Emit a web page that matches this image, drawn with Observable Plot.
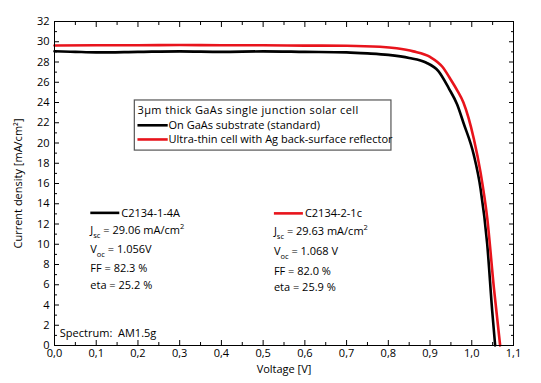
<!DOCTYPE html>
<html><head><meta charset="utf-8">
<script src="https://cdn.jsdelivr.net/npm/d3@7"></script>
<script src="https://cdn.jsdelivr.net/npm/@observablehq/plot@0.6"></script>
<style>
body{margin:0;background:#fff;font-family:"Open Sans",sans-serif}
#chart{position:relative;width:541px;height:383px}
</style>
</head><body><div id="chart"></div>
<script>
// Sample C2134-1-4A (on GaAs substrate)
const voltageA = [0, 0.05, 0.1, 0.2, 0.3, 0.4, 0.5, 0.6, 0.7, 0.75, 0.8, 0.85, 0.89, 0.92, 0.945, 0.965, 0.98, 1.005, 1.021, 1.037, 1.049, 1.056];
const currentA = [29.06, 29.0, 28.95, 29.0, 29.05, 29.0, 29.05, 29.0, 28.95, 28.85, 28.7, 28.4, 27.95, 27.1, 25.4, 23.8, 22.0, 18.8, 15.5, 10.0, 3.4, 0];
// Sample C2134-2-1c (ultra-thin with Ag reflector)
const voltageB = [0, 0.1, 0.2, 0.3, 0.4, 0.5, 0.6, 0.7, 0.78, 0.82, 0.86, 0.9, 0.93, 0.949, 0.965, 0.98, 1.005, 1.021, 1.037, 1.053, 1.068];
const currentB = [29.63, 29.65, 29.65, 29.68, 29.65, 29.65, 29.62, 29.6, 29.5, 29.35, 29.05, 28.5, 27.5, 26.3, 25.2, 24.0, 20.4, 17.1, 12.6, 5.7, 0];

const xTicks = [0, 0.1, 0.2, 0.3, 0.4, 0.5, 0.6, 0.7, 0.8, 0.9, 1.0, 1.1];
const xMinor = [0.05, 0.15, 0.25, 0.35, 0.45, 0.55, 0.65, 0.75, 0.85, 0.95, 1.05];
const yTicks = [0, 2, 4, 6, 8, 10, 12, 14, 16, 18, 20, 22, 24, 26, 28, 30, 32];
const yMinor = [1, 3, 5, 7, 9, 11, 13, 15, 17, 19, 21, 23, 25, 27, 29, 31];

const legendTitle = "3µm thick GaAs single junction solar cell";
const legendLabels = ["On GaAs substrate (standard)", "Ultra-thin cell with Ag back-surface reflector"];
const sampleNames = ["C2134-1-4A", "C2134-2-1c"];
const jscValues = ["29.06", "29.63"];
const vocValues = ["1.056V", "1.068 V"];
const ffValues = ["82.3 %", "82.0 %"];
const etaValues = ["25.2 %", "25.9 %"];
const colors = ["#000000", "#e8141c"];
const spectrum = "Spectrum:  AM1.5g";

const dataA = voltageA.map((v, i) => ({v, j: currentA[i]}));
const dataB = voltageB.map((v, i) => ({v, j: currentB[i]}));
const fmtX = d => d3.format(".1f")(d).replace(".", ",");

const chart = Plot.plot({
  width: 541, height: 383,
  marginLeft: 54, marginRight: 28, marginTop: 21, marginBottom: 38,
  style: {fontFamily: "Open Sans", fontSize: "11px", color: "#000", background: "#fff", overflow: "visible"},
  x: {domain: [0, 1.1]},
  y: {domain: [0, 32]},
  marks: [
    Plot.axisX(xTicks, {anchor: "bottom", tickSize: -5, tickPadding: 9, tickFormat: fmtX, label: "Voltage [V]", labelAnchor: "center", labelArrow: "none", labelOffset: 27, fontSize: 11}),
    Plot.axisX(xMinor, {anchor: "bottom", tickSize: -3, text: null, label: null}),
    Plot.axisX(xTicks, {anchor: "top", tickSize: -5, text: null, label: null}),
    Plot.axisX(xMinor, {anchor: "top", tickSize: -3, text: null, label: null}),
    Plot.axisY(yTicks, {anchor: "left", tickSize: -5, tickPadding: 10, label: "Current density [mA/cm²]", labelAnchor: "center", labelArrow: "none", labelOffset: 40, fontSize: 11}),
    Plot.axisY(yMinor, {anchor: "left", tickSize: -3, text: null, label: null}),
    Plot.axisY(yTicks, {anchor: "right", tickSize: -5, text: null, label: null}),
    Plot.axisY(yMinor, {anchor: "right", tickSize: -3, text: null, label: null}),
    Plot.line(dataA, {x: "v", y: "j", stroke: colors[0], strokeWidth: 2.6, curve: "monotone-x"}),
    Plot.line(dataB, {x: "v", y: "j", stroke: colors[1], strokeWidth: 2.6, curve: "monotone-x"}),
    Plot.frame({stroke: "#000", strokeWidth: 1})
  ]
});
document.getElementById("chart").append(chart);

// Annotations positioned through the plot's own scales
const sx = chart.scale("x"), sy = chart.scale("y");
const X = v => sx.apply(v), Y = v => sy.apply(v);
const svg = d3.select(chart);
const g = svg.append("g").attr("font-family", "Open Sans").attr("font-size", 11)
  .attr("fill", "#000").attr("text-anchor", "start");

// Legend box
const bx0 = X(0.1925), bx1 = X(0.8075), by0 = Y(24.2), by1 = Y(19.25);
g.append("rect").attr("x", bx0).attr("y", by0).attr("width", bx1 - bx0).attr("height", by1 - by0)
  .attr("fill", "#fff").attr("stroke", "#555").attr("stroke-width", 1.2);
g.append("text").attr("x", X(0.2)).attr("y", Y(23.15)).attr("dy", "0.35em").attr("letter-spacing", 0.4).text(legendTitle);
legendLabels.forEach((lab, i) => {
  const yy = Y(21.7 - i * 1.4);
  g.append("line").attr("x1", X(0.2)).attr("x2", X(0.2725)).attr("y1", yy).attr("y2", yy)
    .attr("stroke", colors[i]).attr("stroke-width", 2.6);
  g.append("text").attr("x", X(0.2745)).attr("y", yy).attr("dy", "0.35em").text(lab);
});

// Sample annotations
const ax = [0.087, 0.527];
const rowsY = [[13.05, 11.35, 9.45, 7.55, 5.9], [13.0, 11.2, 9.3, 7.3, 5.7]];
sampleNames.forEach((name, i) => {
  const x0 = X(ax[i]);
  const r = rowsY[i];
  g.append("line").attr("x1", x0).attr("x2", x0 + 29).attr("y1", Y(r[0])).attr("y2", Y(r[0]))
    .attr("stroke", colors[i]).attr("stroke-width", 2.6);
  g.append("text").attr("x", x0 + 31).attr("y", Y(r[0])).attr("dy", "0.35em").text(name);
  const t1 = g.append("text").attr("x", x0).attr("y", Y(r[1])).attr("dy", "0.35em");
  t1.append("tspan").text("J");
  t1.append("tspan").attr("font-size", 7.5).attr("dy", "4").text("sc");
  t1.append("tspan").attr("dy", "-4").text(" = " + jscValues[i] + " mA/cm");
  t1.append("tspan").attr("font-size", 7.5).attr("dy", "-5").text("2");
  const t2 = g.append("text").attr("x", x0).attr("y", Y(r[2])).attr("dy", "0.35em");
  t2.append("tspan").text("V");
  t2.append("tspan").attr("font-size", 7.5).attr("dy", "4").text("oc");
  t2.append("tspan").attr("dy", "-4").text(" = " + vocValues[i]);
  g.append("text").attr("x", x0).attr("y", Y(r[3])).attr("dy", "0.35em").text("FF = " + ffValues[i]);
  g.append("text").attr("x", x0).attr("y", Y(r[4])).attr("dy", "0.35em").text("eta = " + etaValues[i]);
});
g.append("text").attr("x", X(0.014)).attr("y", Y(1.2)).attr("dy", "0.35em").text(spectrum);
</script>
</body></html>
